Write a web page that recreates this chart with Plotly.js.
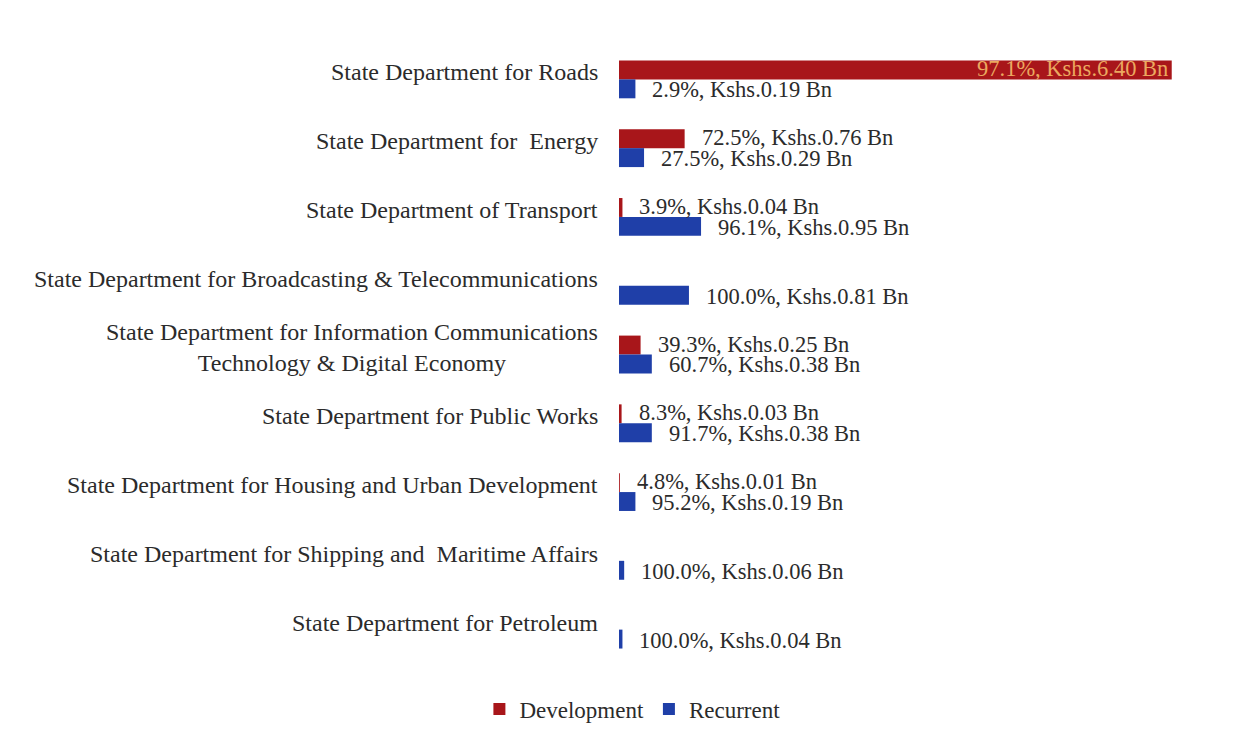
<!DOCTYPE html>
<html>
<head>
<meta charset="utf-8">
<script src="https://cdn.plot.ly/plotly-3.0.1.min.js"></script>
<style>html,body{margin:0;padding:0;background:#fff;}#chart{width:1240px;height:741px;}</style>
</head>
<body>
<div id="chart"></div>
<script>
var categories = [
  "State Department for Roads",
  "State Department for  Energy",
  "State Department of Transport",
  "State Department for Broadcasting & Telecommunications",
  "State Department for Information Communications<br>Technology & Digital Economy",
  "State Department for Public Works",
  "State Department for Housing and Urban Development",
  "State Department for Shipping and  Maritime Affairs",
  "State Department for Petroleum"
];
var devValues = [6.40, 0.76, 0.04, null, 0.25, 0.03, 0.01, null, null];
var devShares = [97.1, 72.5, 3.9, null, 39.3, 8.3, 4.8, null, null];
var recValues = [0.19, 0.29, 0.95, 0.81, 0.38, 0.38, 0.19, 0.06, 0.04];
var recShares = [2.9, 27.5, 96.1, 100.0, 60.7, 91.7, 95.2, 100.0, 100.0];

var DEV_COLOR = "#A8161A";
var REC_COLOR = "#1F3FA8";
var FONT = "Liberation Serif, Times New Roman, serif";
var TXT = "#2b2b2b";
var BARGAP = 0.45;
var half = (1 - BARGAP) / 4;

function label(share, val) {
  return share.toFixed(1) + "%, Kshs." + val.toFixed(2) + " Bn";
}

var traces = [
  { type: "bar", orientation: "h", name: "Development", y: categories, x: devValues,
    marker: { color: DEV_COLOR }, hoverinfo: "skip" },
  { type: "bar", orientation: "h", name: "Recurrent", y: categories, x: recValues,
    marker: { color: REC_COLOR }, hoverinfo: "skip" }
];

var annotations = [];
categories.forEach(function (c, i) {
  annotations.push({ xref: "paper", yref: "y", x: 0, y: c, xanchor: "right", yanchor: "middle",
    xshift: -19, yshift: 7, text: c, showarrow: false, align: "center",
    font: { family: FONT, size: 24, color: TXT } });
  if (devValues[i] !== null) {
    var inside = devValues[i] > 3;
    annotations.push({ xref: "x", yref: "y", x: devValues[i], y: i - half,
      xanchor: inside ? "right" : "left", yanchor: "middle",
      xshift: inside ? -2 : 15, yshift: 1, showarrow: false,
      text: label(devShares[i], devValues[i]),
      font: { family: FONT, size: 22.5, color: inside ? "#EBA860" : TXT } });
  }
  if (recValues[i] !== null) {
    annotations.push({ xref: "x", yref: "y", x: recValues[i], y: i + half,
      xanchor: "left", yanchor: "middle", xshift: 15, yshift: -1, showarrow: false,
      text: label(recShares[i], recValues[i]),
      font: { family: FONT, size: 22.5, color: TXT } });
  }
});

var layout = {
  width: 1240, height: 741,
  paper_bgcolor: "#fff", plot_bgcolor: "#fff",
  margin: { l: 619, r: 51, t: 45, b: 77 },
  barmode: "group", bargap: BARGAP, bargroupgap: 0,
  font: { family: FONT, size: 23, color: TXT },
  xaxis: { range: [0, 6.6], showgrid: false, zeroline: false, showticklabels: false, showline: false, ticks: "" },
  yaxis: { type: "category", autorange: "reversed", showgrid: false, zeroline: false,
    showticklabels: false, showline: false, ticks: "" },
  showlegend: true,
  legend: { orientation: "h", xref: "container", yref: "container", x: 0.51, y: 0.043,
    xanchor: "center", yanchor: "middle", traceorder: "normal",
    font: { family: FONT, size: 23, color: TXT }, itemwidth: 30, tracegroupgap: 0 },
  annotations: annotations
};

Plotly.newPlot("chart", traces, layout, { displayModeBar: false, staticPlot: true });
</script>
</body>
</html>
